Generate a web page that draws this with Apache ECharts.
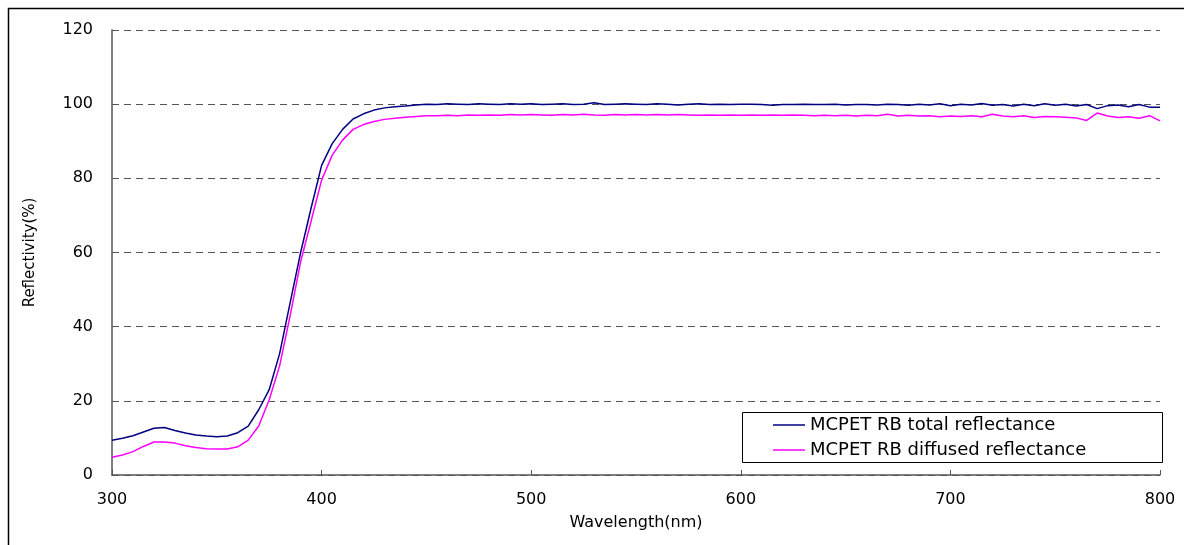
<!DOCTYPE html>
<html>
<head>
<meta charset="utf-8">
<script src="https://cdn.jsdelivr.net/npm/echarts@6/dist/echarts.min.js"></script>
<style>
html, body { margin: 0; padding: 0; background: #fff; }
#chartBox { width: 1184px; height: 545px; }
</style>
</head>
<body>
<div id="chartBox"></div>
<script>
// wavelength 300..800 nm, every 5 nm
var wavelengths = [];
for (var w = 300; w <= 800; w += 5) { wavelengths.push(w); }

var totalRefl = [
    9.4, 9.9, 10.6, 11.6, 12.6, 12.8, 12.0, 11.3, 10.8, 10.5,
    10.3, 10.5, 11.4, 13.2, 17.6, 23.0, 32.8, 46.5, 60.0, 72.0,
    83.5, 89.3, 93.2, 96.0, 97.4, 98.4, 99.0, 99.3, 99.5, 99.8,
    100.0, 99.9, 100.1, 100.0, 99.9, 100.1, 100.0, 99.9, 100.1, 100.0,
    100.1, 99.9, 100.0, 100.1, 99.9, 100.0, 100.4, 99.9, 100.0, 100.1,
    100.0, 99.9, 100.1, 100.0, 99.8, 100.0, 100.1, 99.9, 100.0, 99.9,
    100.0, 100.0, 99.9, 99.7, 99.9, 99.9, 100.0, 99.9, 99.9, 100.0,
    99.8, 99.9, 99.9, 99.8, 100.0, 99.9, 99.7, 100.0, 99.8, 100.1,
    99.6, 100.0, 99.8, 100.2, 99.7, 99.9, 99.5, 100.0, 99.6, 100.1,
    99.7, 100.0, 99.5, 99.9, 98.8, 99.6, 99.8, 99.3, 99.9, 99.2,
    99.2
];

var diffusedRefl = [
    4.8, 5.4, 6.3, 7.7, 8.9, 8.9, 8.6, 7.9, 7.4, 7.1,
    7.0, 7.0, 7.6, 9.4, 13.2, 20.3, 29.5, 43.0, 57.5, 68.5,
    79.5, 86.2, 90.3, 93.2, 94.5, 95.3, 95.9, 96.2, 96.5, 96.7,
    96.9, 96.9, 97.0, 96.9, 97.1, 97.0, 97.1, 97.0, 97.2, 97.1,
    97.2, 97.1, 97.0, 97.2, 97.1, 97.3, 97.1, 97.0, 97.2, 97.1,
    97.2, 97.1, 97.2, 97.1, 97.2, 97.1, 97.0, 97.1, 97.0, 97.1,
    97.0, 97.1, 97.0, 97.1, 97.0, 97.1, 97.0, 96.9, 97.0, 96.9,
    97.0, 96.8, 97.0, 96.9, 97.3, 96.8, 97.0, 96.8, 96.9, 96.6,
    96.8, 96.7, 96.9, 96.6, 97.3, 96.8, 96.6, 96.9, 96.4, 96.7,
    96.6, 96.5, 96.3, 95.6, 97.6, 96.8, 96.4, 96.6, 96.2, 96.9,
    95.5
];

var xTicks = [300, 400, 500, 600, 700, 800];
var yTicks = [0, 20, 40, 60, 80, 100, 120];

function pairs(ys) {
    return wavelengths.map(function (x, i) { return [x, ys[i]]; });
}

var font = 'DejaVu Sans';
var dom = document.getElementById('chartBox');
var myChart = echarts.init(dom);

var option = {
    animation: false,
    backgroundColor: '#fff',
    grid: { left: 112, right: 24, top: 30, bottom: 70 },
    graphic: [
        {
            type: 'rect', left: 6, top: 6,
            shape: { width: 1300, height: 700 },
            style: { fill: 'none', stroke: '#000', lineWidth: 1.5 },
            silent: true
        },
        {
            type: 'rect', left: 742, top: 412,
            shape: { width: 420, height: 50 },
            style: { fill: '#fff', stroke: '#000', lineWidth: 1 },
            z: 50, silent: true
        }
    ],
    legend: {
        left: 742, top: 412,
        orient: 'vertical',
        padding: [3, 0, 0, 31],
        icon: 'rect',
        itemWidth: 32, itemHeight: 1.5, itemGap: 5,
        z: 60,
        textStyle: { fontFamily: font, fontSize: 18, lineHeight: 20, color: '#000' },
        data: ['MCPET RB total reflectance', 'MCPET RB diffused reflectance']
    },
    xAxis: {
        type: 'value',
        min: 300, max: 800, interval: 100,
        name: 'Wavelength(nm)',
        nameLocation: 'middle',
        nameGap: 40,
        nameTextStyle: { fontFamily: font, fontSize: 16, color: '#000' },
        axisLine: { show: true, lineStyle: { color: '#555', width: 1.5 } },
        axisTick: { show: true, inside: true, length: 5, lineStyle: { color: '#555' } },
        axisLabel: {
            fontFamily: font, fontSize: 16, color: '#000', margin: 17,
            formatter: function (v) { return xTicks.indexOf(v) >= 0 ? String(v) : ''; }
        },
        splitLine: { show: false }
    },
    yAxis: {
        type: 'value',
        min: 0, max: 120, interval: 20,
        name: 'Reflectivity(%)',
        nameLocation: 'middle',
        nameGap: 74,
        nameTextStyle: { fontFamily: font, fontSize: 15, color: '#000' },
        axisLine: { show: true, lineStyle: { color: '#555', width: 1.5 } },
        axisTick: { show: false },
        axisLabel: {
            fontFamily: font, fontSize: 16, color: '#000', margin: 19,
            formatter: function (v) { return yTicks.indexOf(v) >= 0 ? String(v) : ''; }
        },
        splitLine: { show: true, lineStyle: { color: '#555', type: [7, 5], width: 1 } }
    },
    series: [
        {
            name: 'MCPET RB total reflectance',
            type: 'line',
            symbol: 'none',
            data: pairs(totalRefl),
            lineStyle: { color: '#000080', width: 1.5 },
            itemStyle: { color: '#000080' },
            z: 3
        },
        {
            name: 'MCPET RB diffused reflectance',
            type: 'line',
            symbol: 'none',
            data: pairs(diffusedRefl),
            lineStyle: { color: '#ff00ff', width: 1.5 },
            itemStyle: { color: '#ff00ff' },
            z: 2
        }
    ]
};

if (option && typeof option === 'object') {
    myChart.setOption(option, true);
}
</script>
</body>
</html>
